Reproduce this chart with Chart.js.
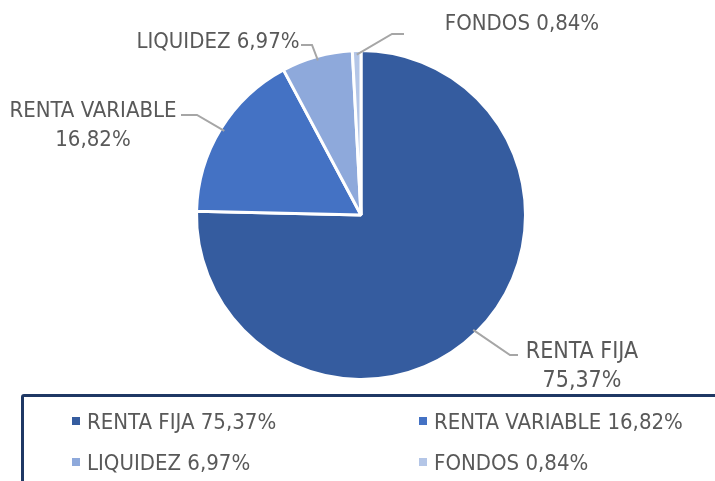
<!DOCTYPE html>
<html>
<head>
<meta charset="utf-8">
<script src="https://cdn.jsdelivr.net/npm/chart.js@4.4.0/dist/chart.umd.min.js"></script>
<style>
  html, body { margin: 0; padding: 0; background: #fff; }
  #wrap { position: relative; width: 715px; height: 481px; overflow: hidden; font-family: "DejaVu Sans Condensed", "Open Sans", sans-serif; }
  #chart { position: absolute; left: 0; top: 0; }
  #legend { position: absolute; left: 21px; top: 394px; width: 720px; height: 120px; border: 3px solid #1f3864; border-radius: 3px; box-sizing: border-box; }
  .item { position: absolute; font-size: 22px; color: #595959; white-space: nowrap; line-height: 22px; }
  .item i { display: inline-block; width: 8px; height: 8px; margin-right: 7px; vertical-align: 4px; }
</style>
</head>
<body>
<div id="wrap">
  <canvas id="chart" width="715" height="481"></canvas>
  <div id="legend"></div>
</div>
<script>
// datos de la cartera
const categorias = ['RENTA FIJA', 'RENTA VARIABLE', 'LIQUIDEZ', 'FONDOS'];
const porcentajes = [75.37, 16.82, 6.97, 0.84];
const colores = ['#355c9f', '#4472c4', '#8ea9db', '#b4c6e7'];

const fmt = v => v.toFixed(2).replace('.', ',') + '%';

// posicion de cada etiqueta (texto) y de su linea guia
const etiquetas = [
  { lines: ['RENTA FIJA', fmt(porcentajes[0])], x: 582, y: 352, elbow: [510, 355], end: [518, 355] },
  { lines: ['RENTA VARIABLE', fmt(porcentajes[1])], x: 93, y: 111, elbow: [197, 115], end: [181, 115] },
  { lines: [categorias[2] + ' ' + fmt(porcentajes[2])], x: 218, y: 42, elbow: [312, 45], end: [301, 45] },
  { lines: [categorias[3] + ' ' + fmt(porcentajes[3])], x: 522, y: 24, elbow: [392, 34], end: [404, 34] }
];

const labelPlugin = {
  id: 'etiquetas',
  afterDatasetsDraw(chart) {
    const ctx = chart.ctx;
    const meta = chart.getDatasetMeta(0);
    ctx.save();
    meta.data.forEach((arc, i) => {
      const p = arc.getProps(['x', 'y', 'startAngle', 'endAngle', 'outerRadius'], true);
      const mid = (p.startAngle + p.endAngle) / 2;
      const r = p.outerRadius - 4;
      const sx = p.x + Math.cos(mid) * r;
      const sy = p.y + Math.sin(mid) * r;
      const e = etiquetas[i];
      ctx.strokeStyle = '#a6a6a6';
      ctx.lineWidth = 2;
      ctx.beginPath();
      ctx.moveTo(sx, sy);
      ctx.lineTo(e.elbow[0], e.elbow[1]);
      ctx.lineTo(e.end[0], e.end[1]);
      ctx.stroke();
      ctx.fillStyle = '#595959';
      ctx.font = (i === 0 ? '23px' : '22px') + ' "DejaVu Sans Condensed", "Open Sans", sans-serif';
      ctx.textAlign = 'center';
      ctx.textBaseline = 'middle';
      e.lines.forEach((t, k) => ctx.fillText(t, e.x, e.y + k * 29));
    });
    ctx.restore();
  }
};

new Chart(document.getElementById('chart'), {
  type: 'pie',
  data: {
    labels: categorias,
    datasets: [{
      data: porcentajes,
      backgroundColor: colores,
      borderColor: '#ffffff',
      borderWidth: 3
    }]
  },
  options: {
    responsive: false,
    animation: false,
    layout: { padding: { top: 49, bottom: 100, left: 195, right: 188 } },
    plugins: { legend: { display: false }, tooltip: { enabled: false } }
  },
  plugins: [labelPlugin]
});

// leyenda
const legendPos = [[48, 14], [395, 14], [48, 55], [395, 55]];
const legend = document.getElementById('legend');
categorias.forEach((c, i) => {
  const d = document.createElement('div');
  d.className = 'item';
  d.style.left = legendPos[i][0] + 'px';
  d.style.top = legendPos[i][1] + 'px';
  d.innerHTML = `<i style="background:${colores[i]}"></i>${c} ${fmt(porcentajes[i])}`;
  legend.appendChild(d);
});
</script>
</body>
</html>
